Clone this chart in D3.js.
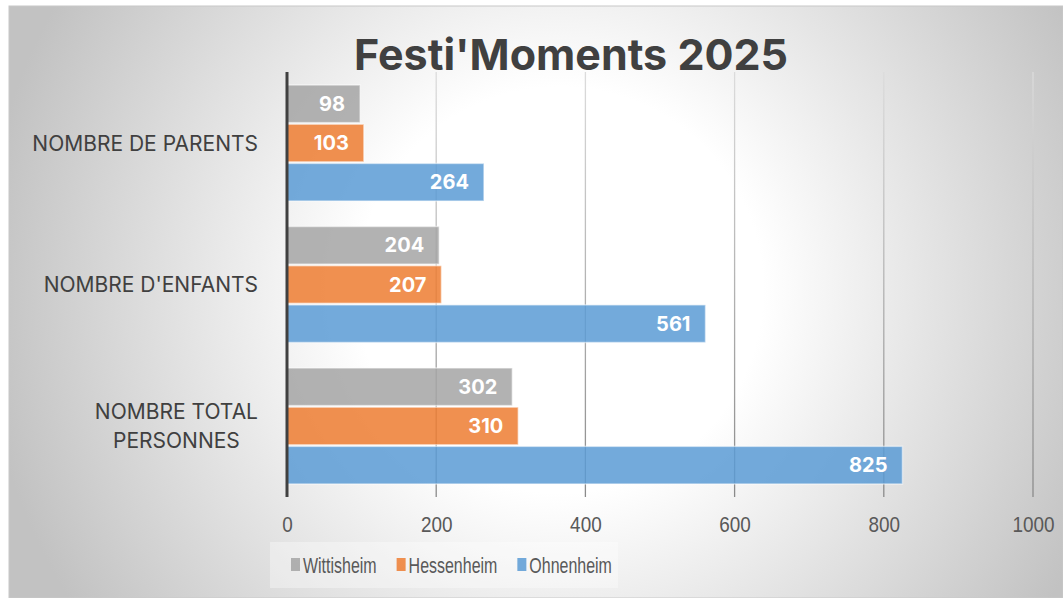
<!DOCTYPE html>
<html>
<head>
<meta charset="utf-8">
<script src="https://cdn.jsdelivr.net/npm/d3@7"></script>
<style>
  body { margin: 0; background: #fff; }
  svg { display: block; }
</style>
</head>
<body>
<svg id="chart" width="1063" height="598"></svg>
<script>
// data
var categories = ["NOMBRE DE PARENTS", "NOMBRE D'ENFANTS", "NOMBRE TOTAL PERSONNES"];
var series = ["Wittisheim", "Hessenheim", "Ohnenheim"];
var wittisheim = [98, 204, 302];
var hessenheim = [103, 207, 310];
var ohnenheim = [264, 561, 825];
var tickValues = [0, 200, 400, 600, 800, 1000];

var values = { "Wittisheim": wittisheim, "Hessenheim": hessenheim, "Ohnenheim": ohnenheim };
var colors = { "Wittisheim": "#A5A5A5", "Hessenheim": "#ED7D31", "Ohnenheim": "#5B9BD5" };

var width = 1063, height = 598;
var svg = d3.select("#chart");
var defs = svg.append("defs");

// background gradient
var bg = defs.append("radialGradient")
    .attr("id", "bg")
    .attr("gradientUnits", "userSpaceOnUse")
    .attr("cx", 560).attr("cy", 290).attr("r", 580);
bg.append("stop").attr("offset", 0).attr("stop-color", "#ffffff");
bg.append("stop").attr("offset", 0.35).attr("stop-color", "#ffffff");
bg.append("stop").attr("offset", 1).attr("stop-color", "#c2c2c2");

// gridline gradient, light at top, darker at bottom
var gg = defs.append("linearGradient")
    .attr("id", "grid")
    .attr("gradientUnits", "userSpaceOnUse")
    .attr("x1", 0).attr("y1", 72).attr("x2", 0).attr("y2", 497);
gg.append("stop").attr("offset", 0).attr("stop-color", "#dcdcdc");
gg.append("stop").attr("offset", 1).attr("stop-color", "#8a8a8a");

svg.append("rect")
    .attr("x", 9).attr("y", 6)
    .attr("width", width - 9).attr("height", height - 6)
    .attr("fill", "url(#bg)")
    .attr("stroke", "#c8c8c8");

// Title
svg.append("text")
    .attr("x", 571)
    .attr("y", 70)
    .attr("text-anchor", "middle")
    .attr("font-family", "Inter, 'Open Sans', sans-serif")
    .attr("font-size", "43px")
    .attr("font-weight", "bold")
    .attr("fill", "#404040")
    .text("Festi'Moments 2025");

// scales
var x = d3.scaleLinear()
    .domain([0, 1000])
    .range([287, 1033]);

var y0 = d3.scaleBand()
    .domain(categories)
    .range([72, 497])
    .paddingInner(0.18)
    .paddingOuter(0.092);

var y1 = d3.scaleBand()
    .domain(series)
    .range([0, y0.bandwidth()])
    .paddingInner(0.04);

// gridlines
svg.append("g")
    .selectAll("line")
    .data(tickValues.slice(1))
    .enter()
    .append("line")
    .attr("x1", function(d) { return x(d); })
    .attr("x2", function(d) { return x(d); })
    .attr("y1", 72)
    .attr("y2", 497)
    .attr("stroke", "url(#grid)")
    .attr("stroke-width", 1.3);

// Bars
var groups = svg.append("g")
    .selectAll("g")
    .data(categories)
    .enter()
    .append("g")
    .attr("transform", function(d) { return "translate(0," + y0(d) + ")"; });

groups.selectAll("rect")
    .data(function(c, i) {
        return series.map(function(s) { return { s: s, v: values[s][i] }; });
    })
    .enter()
    .append("rect")
    .attr("x", x(0))
    .attr("y", function(d) { return y1(d.s); })
    .attr("width", function(d) { return x(d.v) - x(0); })
    .attr("height", y1.bandwidth())
    .attr("fill", function(d) { return colors[d.s]; })
    .attr("fill-opacity", 0.85)
    .attr("stroke", "#ffffff")
    .attr("stroke-opacity", 0.5)
    .attr("stroke-width", 1.5);

groups.selectAll("text")
    .data(function(c, i) {
        return series.map(function(s) { return { s: s, v: values[s][i] }; });
    })
    .enter()
    .append("text")
    .attr("x", function(d) { return x(d.v) - 15; })
    .attr("y", function(d) { return y1(d.s) + y1.bandwidth() / 2; })
    .attr("dy", "0.36em")
    .attr("text-anchor", "end")
    .attr("font-family", "Inter, 'Open Sans', sans-serif")
    .attr("font-size", "20px")
    .attr("font-weight", "bold")
    .attr("fill", "#ffffff")
    .text(function(d) { return d.v; });

// Y axis line
svg.append("line")
    .attr("x1", x(0)).attr("x2", x(0))
    .attr("y1", 72).attr("y2", 497)
    .attr("stroke", "#404040")
    .attr("stroke-width", 3);

// Category labels
var catLabels = svg.append("g")
    .attr("font-family", "Inter, 'Open Sans', sans-serif")
    .attr("font-size", "21px")
    .attr("fill", "#404040");

categories.forEach(function(c) {
    var lines = c === "NOMBRE TOTAL PERSONNES" ? ["NOMBRE TOTAL", "PERSONNES"] : [c];
    var cy = y0(c) + y0.bandwidth() / 2;
    var t = catLabels.append("text")
        .attr("text-anchor", lines.length > 1 ? "middle" : "end");
    lines.forEach(function(l, i) {
        t.append("tspan")
            .attr("y", cy + (i - (lines.length - 1) / 2) * 29)
            .attr("dy", "0.36em")
            .text(l);
    });
    if (lines.length > 1) {
        var w = d3.max(t.selectAll("tspan").nodes(), function(n) { return n.getComputedTextLength(); });
        t.selectAll("tspan").attr("x", 258 - w / 2);
    } else {
        t.selectAll("tspan").attr("x", 258);
    }
});

// X axis
var xAxis = svg.append("g")
    .attr("transform", "translate(0,516)")
    .call(d3.axisBottom(x)
        .tickValues(tickValues)
        .tickSize(0)
        .tickPadding(0)
        .tickFormat(d3.format("d"))
    );
xAxis.select(".domain").remove();
xAxis.selectAll("text")
    .attr("dy", "0.71em")
    .attr("font-family", "'Liberation Sans', Arial, sans-serif")
    .attr("font-size", "22px")
    .attr("transform", "scale(0.86,1)")
    .attr("fill", "#595959");

// Legend
svg.append("rect")
    .attr("x", 270).attr("y", 542)
    .attr("width", 348).attr("height", 46)
    .attr("fill", "#ffffff")
    .attr("fill-opacity", 0.35);

var lx = 291;
series.forEach(function(s) {
    svg.append("rect")
        .attr("x", lx).attr("y", 558)
        .attr("width", 9).attr("height", 13)
        .attr("fill", colors[s])
        .attr("fill-opacity", 0.85);
    var t = svg.append("text")
        .attr("transform", "translate(" + (lx + 12) + ",565) scale(0.71,1)")
        .attr("dy", "0.36em")
        .attr("font-family", "'Liberation Sans', Arial, sans-serif")
        .attr("font-size", "22.5px")
        .attr("fill", "#595959")
        .text(s);
    lx += 12 + t.node().getComputedTextLength() * 0.71 + 20;
});
</script>
</body>
</html>
